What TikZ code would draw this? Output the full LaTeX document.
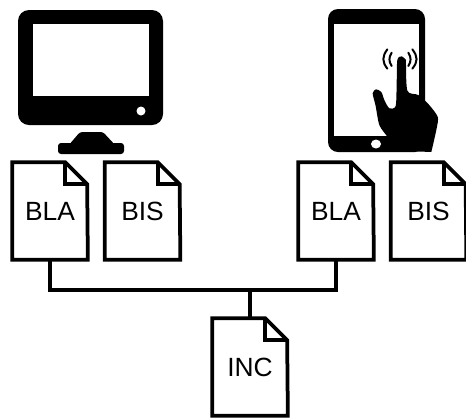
\documentclass[tikz,border=0pt]{standalone}
\usepackage{fontspec}
\setmainfont{Liberation Sans}
\usepackage{tikz}
\tikzset{
  docbox/.style={minimum width=1.5cm,minimum height=1.94cm,inner sep=0pt,font=\fontsize{15pt}{17pt}\selectfont},
  docline/.style={black,line width=0.075cm,line join=miter},
  wave/.style={black,line width=0.04cm,line cap=round}
}
\begin{document}
\begin{tikzpicture}[x=0.02cm,y=-0.02cm]
  \useasboundingbox (0,0) rectangle (466,417);
%% monitor
  \fill [black,rounded corners=0.22cm] (18,10) rectangle (163,125);
  \fill [white] (33,24) rectangle (149,96);
  \fill [white] (141,111) circle (0.09cm);
  \fill [black,rounded corners=0.06cm] (58,143) rectangle (124,154);
  \fill [black,rounded corners=0.05cm] (68,146) -- (80,132) -- (103,132) -- (116,146) -- cycle;
%% tablet
  \fill [black,rounded corners=0.2cm] (328,9) rectangle (425,152);
  \fill [white] (334,24) rectangle (419,136);
  \fill [white] (376,144) ellipse (0.1cm and 0.09cm);
  \begin{scope}[shift={(290,0)},x=0.00667cm,y=-0.00667cm]
    \fill [black] plot [smooth,tension=0.45] coordinates {(348,180) (335,169) (322,180) (320,250) (317,318) (298,325) (283,300) (274,276) (258,268) (248,280) (257,318) (268,375) (292,410) (322,452)} -- (424,456) -- plot [smooth,tension=0.45] coordinates {(424,456) (440,385) (443,350) (415,312) (385,285) (352,272) (348,180)} -- cycle;
    \draw [wave] (292,148) .. controls (276,170) and (276,185) .. (292,206);
    \draw [wave] (305,158) .. controls (296,172) and (296,184) .. (305,198);
    \draw [wave] (367,148) .. controls (384,170) and (384,185) .. (367,206);
    \draw [wave] (355,158) .. controls (364,172) and (364,184) .. (355,198);
  \end{scope}
%% files
  \foreach \name/\x/\y/\ftext in {blaleft/50/211/BLA, bisleft/142.5/211/BIS, blaright/336/211/BLA, bisright/428.5/211/BIS, inc/250/367/INC}
  {
    \node [docbox] (\name) at (\x,\y) {\ftext};
    \draw [docline] (\name.north west) -- ++(53,0) coordinate (fold) -- ++(22,22) -- (\name.south east) -- (\name.south west) -- cycle;
    \draw [docline] (fold) -- ++(0,22) -- ++(22,0);
  }
  \coordinate (tee) at (250,290);
  \draw [docline] (blaleft.south) |- (tee) -| (blaright.south);
  \draw [docline] (tee) -- (inc.north);
\end{tikzpicture}
\end{document}
